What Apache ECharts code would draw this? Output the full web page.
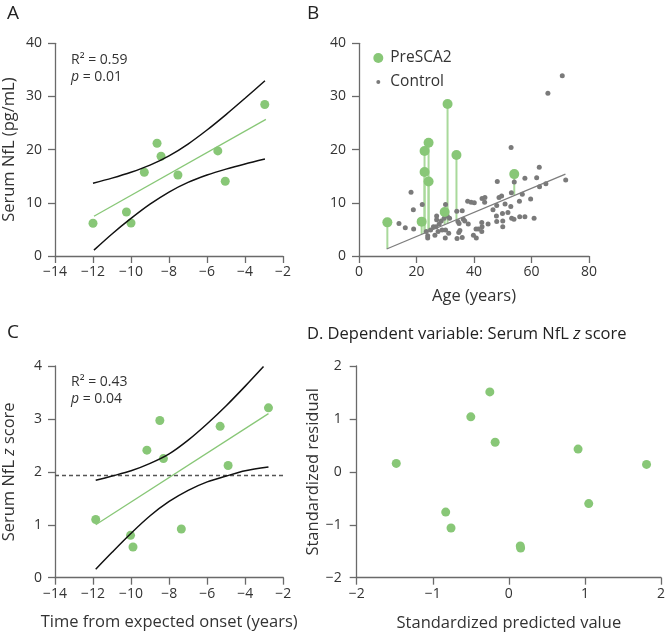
<!DOCTYPE html>
<html><head><meta charset="utf-8">
<script src="https://cdn.jsdelivr.net/npm/echarts@6/dist/echarts.min.js"></script>
<style>html,body{margin:0;padding:0;background:#fff}#c{width:668px;height:636px}</style>
</head><body><div id="c"></div>
<script>
// ---------- Panel A ----------
const aTime = [-12.0, -10.24, -10.0, -9.3, -8.63, -8.42, -7.53, -5.43, -5.04, -2.96];
const aNfl  = [6.15, 8.28, 6.21, 15.75, 21.2, 18.76, 15.24, 19.76, 14.05, 28.5];
const aFitX = [-11.95, -2.9];
const aFitY = [7.47, 25.7];
const aUpperX = [-12, -11, -10, -9, -8, -7, -6, -5, -4, -2.95];
const aUpperY = [13.67, 14.64, 15.74, 17.08, 18.83, 21.06, 23.70, 26.6, 29.66, 32.95];
const aLowerX = [-11.95, -11, -10, -9, -8, -7, -6, -5, -4, -2.95];
const aLowerY = [1.1, 4.14, 7.06, 9.74, 12.03, 13.84, 15.22, 16.34, 17.32, 18.25];

// ---------- Panel B ----------
const preAge  = [9.86, 21.8, 22.8, 22.8, 24.2, 24.2, 29.8, 30.8, 33.9, 54.0];
const preNfl  = [6.33, 6.46, 19.75, 15.8, 21.3, 14.0, 8.28, 28.6, 19.0, 15.4];
const preBase = [1.4, 4.1, 4.3, 4.3, 4.6, 4.6, 5.9, 6.1, 6.8, 11.4];
const ctrlAge = [13.9,16.1,18.1,18.9,19.0,22.0,23.4,23.9,23.9,24.9,25.9,26.4,26.8,27.0,27.0,27.5,27.9,28.6,28.9,29.6,29.8,30.1,30.1,30.0,30.7,31.5,31.2,34.0,34.4,34.8,35.1,34.1,34.7,35.9,36.3,36.8,35.9,37.8,38.0,39.0,40.1,39.8,40.7,40.8,41.5,42.8,43.8,43.7,42.7,42.8,42.7,44.9,46.6,47.9,48.1,47.8,47.9,48.7,49.6,49.9,50.0,50.0,50.8,51.8,52.8,52.9,53.0,53.1,53.9,54.0,55.8,55.9,56.8,57.7,57.7,59.7,60.9,61.8,62.7,62.8,65.0,65.7,70.7,71.9];
const ctrlNfl = [6.1,5.3,12.0,8.7,5.1,9.7,4.6,3.8,3.4,4.9,5.5,3.9,5.5,7.5,6.8,4.6,6.0,6.6,4.9,7.1,8.0,9.7,4.9,3.4,7.5,7.1,4.3,8.4,6.5,6.1,4.8,3.3,4.4,8.5,6.9,6.6,3.5,10.3,6.0,10.1,10.0,3.9,5.1,3.4,5.1,10.8,11.0,10.1,6.3,5.5,4.6,6.0,8.7,9.5,14.0,7.5,6.5,11.0,11.3,8.0,6.6,5.5,9.8,8.2,9.3,20.4,11.9,7.1,6.9,13.9,10.3,7.4,11.6,14.6,7.4,10.7,7.1,14.7,16.7,13.0,13.6,30.6,33.9,14.3];
const ctrlFitAge = [9.6, 71.8];
const ctrlFitNfl = [1.32, 15.4];

// ---------- Panel C ----------
const cTime = [-11.86, -10.03, -9.9, -9.17, -8.49, -8.3, -7.36, -5.32, -4.9, -2.78];
const cZ    = [1.10, 0.80, 0.58, 2.41, 2.97, 2.25, 0.92, 2.86, 2.12, 3.21];
const cFitX = [-11.86, -2.78];
const cFitY = [1.0, 3.10];
const cUpperX = [-11.86, -11, -10, -9, -8, -7, -6, -5, -4, -3.04];
const cUpperY = [1.84, 1.92, 2.02, 2.16, 2.34, 2.60, 2.91, 3.25, 3.62, 3.99];
const cLowerX = [-11.86, -11, -10, -9, -8, -7, -6, -5, -4, -2.78];
const cLowerY = [0.16, 0.48, 0.84, 1.17, 1.44, 1.65, 1.81, 1.92, 2.02, 2.09];
const cThreshold = 1.93;

// ---------- Panel D ----------
const dPred  = [-1.48, -0.83, -0.76, -0.50, -0.25, -0.18, 0.15, 0.155, 0.91, 1.05, 1.81];
const dResid = [0.16, -0.76, -1.06, 1.04, 1.51, 0.56, -1.40, -1.44, 0.43, -0.60, 0.14];

// ---------- tick settings ----------
const timeTicks = {min: -14, max: -2, interval: 2};
const nflTicks  = {min: 0, max: 40, interval: 10};
const ageTicks  = {min: 0, max: 80, interval: 20};
const zTicks    = {min: 0, max: 4, interval: 1};
const dTicks    = {min: -2, max: 2, interval: 1};

const FONT = 'Open Sans';
const GREEN = '#88c777';
const STEM = '#a9d99b';
const AXIS = '#6a6a6a';
const TXT = '#333333';

const zip = (xs, ys) => xs.map((x, i) => [x, ys[i]]);
const minus = v => String(v).replace('-', '\u2212');

function axis(gridIndex, t, extra) {
  return Object.assign({
    type: 'value', gridIndex, min: t.min, max: t.max, interval: t.interval,
    axisLine: {show: true, onZero: false, lineStyle: {color: AXIS, width: 1.3}},
    axisTick: {show: true, length: 7, lineStyle: {color: AXIS, width: 1.3}},
    axisLabel: {color: TXT, fontSize: 14, fontFamily: FONT, formatter: minus, margin: 13},
    splitLine: {show: false},
    nameLocation: 'middle',
    nameTextStyle: {color: TXT, fontSize: 16.5, fontFamily: FONT}
  }, extra || {});
}
const xLabel = {color: TXT, fontSize: 14, fontFamily: FONT, formatter: minus, margin: 9};

const option = {
  animation: false,
  backgroundColor: '#fff',
  textStyle: {fontFamily: FONT},
  grid: [
    {left: 54, top: 43.3, width: 229, height: 212.7},
    {left: 359, top: 43.3, width: 230, height: 212.7},
    {left: 54, top: 366, width: 229.3, height: 211.7},
    {left: 356.7, top: 366, width: 306.3, height: 211.7}
  ],
  xAxis: [
    axis(0, timeTicks, {axisLabel: xLabel}),
    axis(1, ageTicks, {name: 'Age (years)', nameGap: 32, axisLabel: xLabel}),
    axis(2, timeTicks, {name: 'Time from expected onset (years)', nameGap: 36, axisLabel: xLabel}),
    axis(3, dTicks, {name: 'Standardized predicted value', nameGap: 37, axisLabel: xLabel})
  ],
  yAxis: [
    axis(0, nflTicks, {name: 'Serum NfL (pg/mL)', nameGap: 37}),
    axis(1, nflTicks),
    axis(2, zTicks, {name: 'Serum NfL {i|z} score', nameGap: 37,
      nameTextStyle: {color: TXT, fontSize: 16.5, fontFamily: FONT,
        rich: {i: {fontStyle: 'italic', fontSize: 16.5, fontFamily: FONT, color: TXT}}}}),
    axis(3, dTicks, {name: 'Standardized residual', nameGap: 35, axisLabel: {color: TXT, fontSize: 14, fontFamily: FONT, formatter: minus, margin: 15}})
  ],
  title: [
    {text: 'A', left: 2, top: -1, textStyle: {fontSize: 19, fontWeight: 'normal', color: '#222', fontFamily: FONT}},
    {text: 'B', left: 302, top: -1, textStyle: {fontSize: 19, fontWeight: 'normal', color: '#222', fontFamily: FONT}},
    {text: 'C', left: 2, top: 318, textStyle: {fontSize: 19, fontWeight: 'normal', color: '#222', fontFamily: FONT}},
    {text: 'D. Dependent variable: Serum NfL {i|z} score', left: 302, top: 321,
      textStyle: {fontSize: 16.5, fontWeight: 'normal', color: '#222', fontFamily: FONT,
        rich: {i: {fontStyle: 'italic', fontSize: 16.5, color: '#222', fontFamily: FONT}}}},
    {text: 'R\u00b2 = 0.59\n{i|p} = 0.01', left: 66, top: 47,
      textStyle: {fontSize: 14, fontWeight: 'normal', color: TXT, fontFamily: FONT, lineHeight: 17,
        rich: {i: {fontStyle: 'italic', fontSize: 14, color: TXT, fontFamily: FONT, lineHeight: 17}}}},
    {text: 'R\u00b2 = 0.43\n{i|p} = 0.04', left: 66, top: 369,
      textStyle: {fontSize: 14, fontWeight: 'normal', color: TXT, fontFamily: FONT, lineHeight: 17,
        rich: {i: {fontStyle: 'italic', fontSize: 14, color: TXT, fontFamily: FONT, lineHeight: 17}}}}
  ],
  legend: [
    {data: ['PreSCA2'], left: 373.3, top: 50, padding: 0, itemWidth: 10, itemHeight: 10, icon: 'circle',
      textStyle: {fontSize: 15.5, color: TXT, fontFamily: FONT, padding: [0, 0, 0, 2]}},
    {data: ['Control'], left: 376.3, top: 74, padding: 0, itemWidth: 4, itemHeight: 4, icon: 'circle',
      textStyle: {fontSize: 15.5, color: TXT, fontFamily: FONT, padding: [0, 0, 0, 5]}}
  ],
  series: [
    // Panel A
    {type: 'line', xAxisIndex: 0, yAxisIndex: 0, data: zip(aUpperX, aUpperY), smooth: 0.3, showSymbol: false,
      lineStyle: {color: '#111', width: 1.5}, silent: true},
    {type: 'line', xAxisIndex: 0, yAxisIndex: 0, data: zip(aLowerX, aLowerY), smooth: 0.3, showSymbol: false,
      lineStyle: {color: '#111', width: 1.5}, silent: true},
    {type: 'line', xAxisIndex: 0, yAxisIndex: 0, data: zip(aFitX, aFitY), showSymbol: false,
      lineStyle: {color: GREEN, width: 1.3}, silent: true},
    {type: 'scatter', xAxisIndex: 0, yAxisIndex: 0, data: zip(aTime, aNfl), symbolSize: 9,
      itemStyle: {color: GREEN, opacity: 1}},
    // Panel B
    {type: 'custom', xAxisIndex: 1, yAxisIndex: 1,
      data: preAge.map((a, i) => [a, preNfl[i], preBase[i]]),
      renderItem: function (params, api) {
        const p1 = api.coord([api.value(0), api.value(1)]);
        const p2 = api.coord([api.value(0), api.value(2)]);
        return {type: 'line', shape: {x1: p1[0], y1: p1[1], x2: p2[0], y2: p2[1]},
          style: {stroke: STEM, lineWidth: 2}};
      }, silent: true},
    {type: 'line', xAxisIndex: 1, yAxisIndex: 1, data: zip(ctrlFitAge, ctrlFitNfl), showSymbol: false,
      lineStyle: {color: '#7d7d7d', width: 1.3}, silent: true},
    {name: 'Control', type: 'scatter', xAxisIndex: 1, yAxisIndex: 1, data: zip(ctrlAge, ctrlNfl), symbolSize: 5,
      itemStyle: {color: '#7a7a7a', opacity: 1}},
    {name: 'PreSCA2', type: 'scatter', xAxisIndex: 1, yAxisIndex: 1, data: zip(preAge, preNfl), symbolSize: 10,
      itemStyle: {color: GREEN, opacity: 1}},
    // Panel C
    {type: 'line', xAxisIndex: 2, yAxisIndex: 2, data: [[timeTicks.min, cThreshold], [timeTicks.max, cThreshold]],
      showSymbol: false, lineStyle: {color: '#555', width: 1.6, type: [4, 3]}, silent: true},
    {type: 'line', xAxisIndex: 2, yAxisIndex: 2, data: zip(cUpperX, cUpperY), smooth: 0.3, showSymbol: false,
      lineStyle: {color: '#111', width: 1.5}, silent: true},
    {type: 'line', xAxisIndex: 2, yAxisIndex: 2, data: zip(cLowerX, cLowerY), smooth: 0.3, showSymbol: false,
      lineStyle: {color: '#111', width: 1.5}, silent: true},
    {type: 'line', xAxisIndex: 2, yAxisIndex: 2, data: zip(cFitX, cFitY), showSymbol: false,
      lineStyle: {color: GREEN, width: 1.3}, silent: true},
    {type: 'scatter', xAxisIndex: 2, yAxisIndex: 2, data: zip(cTime, cZ), symbolSize: 9,
      itemStyle: {color: GREEN, opacity: 1}},
    // Panel D
    {type: 'scatter', xAxisIndex: 3, yAxisIndex: 3, data: zip(dPred, dResid), symbolSize: 9,
      itemStyle: {color: GREEN, opacity: 1}}
  ]
};
const chart = echarts.init(document.getElementById('c'));
chart.setOption(option);
</script></body></html>
